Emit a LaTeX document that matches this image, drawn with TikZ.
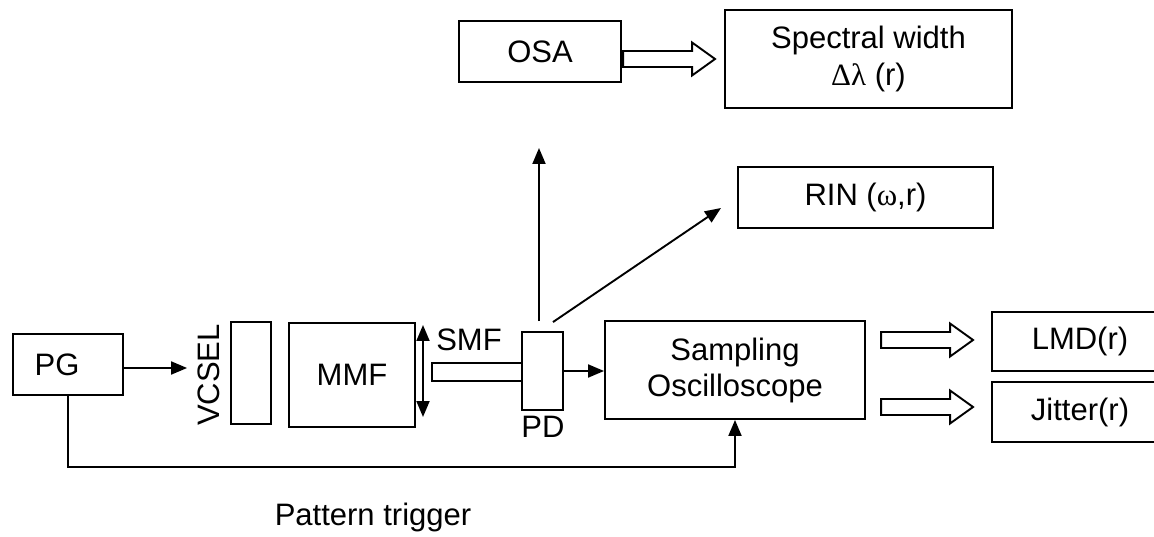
\documentclass[tikz,border=0pt]{standalone}
\usepackage{fontspec}
\setmainfont{Liberation Sans}
\newfontfamily\greekfont{Liberation Serif}
\usetikzlibrary{arrows.meta,calc}

\begin{document}
\begin{tikzpicture}[x=1pt,y=-1pt,
  font=\fontsize{31}{36}\selectfont,
  line width=1.9pt,
  box/.style={draw,inner sep=0pt,align=center},
  tag/.style={inner sep=0pt},
  lead/.style={-{Triangle[length=16pt,width=13pt]}},
  twoway/.style={{Triangle[length=16pt,width=13pt]}-{Triangle[length=16pt,width=13pt]}},
  hollow/.pic={\draw (0,-8) -- (69,-8) -- (69,-16.5) -- (92,0) -- (69,16.5) -- (69,8) -- (0,8) -- cycle;}]
\clip (0,0) rectangle (1154,537);

% source side
\node[box,minimum width=110,minimum height=61] (pg) at (68,364.5) {PG\hspace*{22pt}};
\node[tag,rotate=90] (vlabel) at (209,375) {VCSEL};
\node[box,minimum width=40,minimum height=102] (vcsel) at (251,373) {};
\node[box,minimum width=126,minimum height=104] (mmf) at (352,375) {MMF};
\node[tag] (smf) at (469,340) {SMF};
\node[box,minimum width=90,minimum height=18] (fiber) at (477,372) {};
\node[box,minimum width=41,minimum height=78] (pd) at (542.5,371) {};
\node[tag] (pdl) at (543,427) {PD};

% instruments
\node[box,minimum width=260,minimum height=98,font=\fontsize{31}{36}\selectfont] (scope) at (735,370) {Sampling\\Oscilloscope};
\node[box,minimum width=162,minimum height=61] (osa) at (540,51.5) {OSA};
\node[box,minimum width=287,minimum height=98,font=\fontsize{31}{37}\selectfont] (spec) at (868.5,59) {Spectral width\\{\greekfont Δλ} (r)};
\node[box,minimum width=255,minimum height=61] (rin) at (865.5,197.5) {RIN ({\greekfont ω},r)};
\node[box,minimum width=176,minimum height=59] (lmd) at (1080,341.5) {LMD(r)};
\node[box,minimum width=176,minimum height=60] (jit) at (1080,412) {Jitter(r)};
\node[tag] (trigl) at (373,517) {Pattern trigger};

% connectors
\coordinate (tapT) at (423,325);
\coordinate (tapB) at (423,417);
\coordinate (osaIn) at (539,148);
\coordinate (rinIn) at (721,208);
\coordinate (trig) at (735,467);

\draw[lead,shorten >=10pt] (pg.east |- 0,368) -- (vlabel.north |- 0,368);
\draw[twoway] (tapT) -- (tapB);
\draw[lead] (pd.east) -- (pd.east -| scope.west);
\draw[lead] ($(osaIn |- pd.north)+(0,-10)$) -- (osaIn);
\draw[lead] ($(pd.north)+(10.5,-9)$) -- (rinIn);
\draw[lead] (pg.south) -- (pg.south |- trig) -- (trig) -- (trig |- scope.south);

\pic at ($(spec.west)+(-101,0)$) {hollow};
\pic at ($(lmd.west)+(-110,-1.5)$) {hollow};
\pic at ($(jit.west)+(-110,-5)$) {hollow};
\end{tikzpicture}
\end{document}
